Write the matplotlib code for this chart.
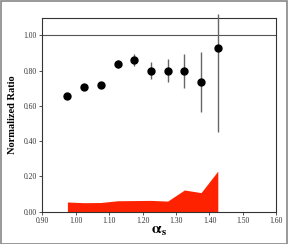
import matplotlib
matplotlib.use('Agg')
import matplotlib.pyplot as plt
from matplotlib.patches import Rectangle

# data
alpha_s = [0.975, 1.025, 1.075, 1.125, 1.175, 1.225, 1.275, 1.325, 1.375, 1.425]
ratio = [0.654, 0.707, 0.720, 0.837, 0.860, 0.800, 0.800, 0.798, 0.734, 0.928]
err_lo = [0.012, 0.012, 0.016, 0.025, 0.035, 0.047, 0.065, 0.097, 0.170, 0.478]
err_hi = [0.012, 0.012, 0.016, 0.025, 0.035, 0.047, 0.065, 0.097, 0.170, 0.190]
band = [0.055, 0.051, 0.052, 0.062, 0.063, 0.064, 0.060, 0.123, 0.108, 0.230]

xticks = [0.90, 1.00, 1.10, 1.20, 1.30, 1.40, 1.50, 1.60]
yticks = [0.00, 0.20, 0.40, 0.60, 0.80, 1.00]

plt.rcParams['font.family'] = 'Liberation Serif'
plt.rcParams['mathtext.fontset'] = 'stix'

fig = plt.figure(figsize=(2.88, 2.44), dpi=100)
ax = fig.add_axes([0.147, 0.1324, 0.8124, 0.7956])

ax.fill_between(alpha_s, 0, band, color='#ff2200', lw=0, zorder=2)
ax.axhline(1.0, color='#555555', lw=0.8, zorder=1)
ax.errorbar(alpha_s, ratio, yerr=[err_lo, err_hi], fmt='o', color='black',
            ecolor='#666666', elinewidth=1.0, markersize=5, capsize=0,
            zorder=3, clip_on=False)

ax.set_xlim(0.90, 1.60)
ax.set_ylim(0.0, 1.10)
ax.set_xticks(xticks)
ax.set_xticklabels(['%.2f' % t for t in xticks])
ax.set_yticks(yticks)
ax.set_yticklabels(['%.2f' % t for t in yticks])
ax.tick_params(labelsize=5.5, length=2, width=0.6, direction='out', pad=2,
               colors='#333333')
for s in ax.spines.values():
    s.set_linewidth(0.8)
    s.set_color('#333333')

ax.set_ylabel('Normalized Ratio', fontsize=7.5, fontweight='bold', labelpad=5)
ax.set_xlabel(r'$\mathbf{\alpha}_{\mathbf{s}}$', fontsize=11, labelpad=0)

fig.patches.append(Rectangle((0.002, 0.002), 0.995, 0.995, transform=fig.transFigure,
                             fill=False, edgecolor='#888888', lw=1.2))

fig.savefig('out.png', dpi=100)
